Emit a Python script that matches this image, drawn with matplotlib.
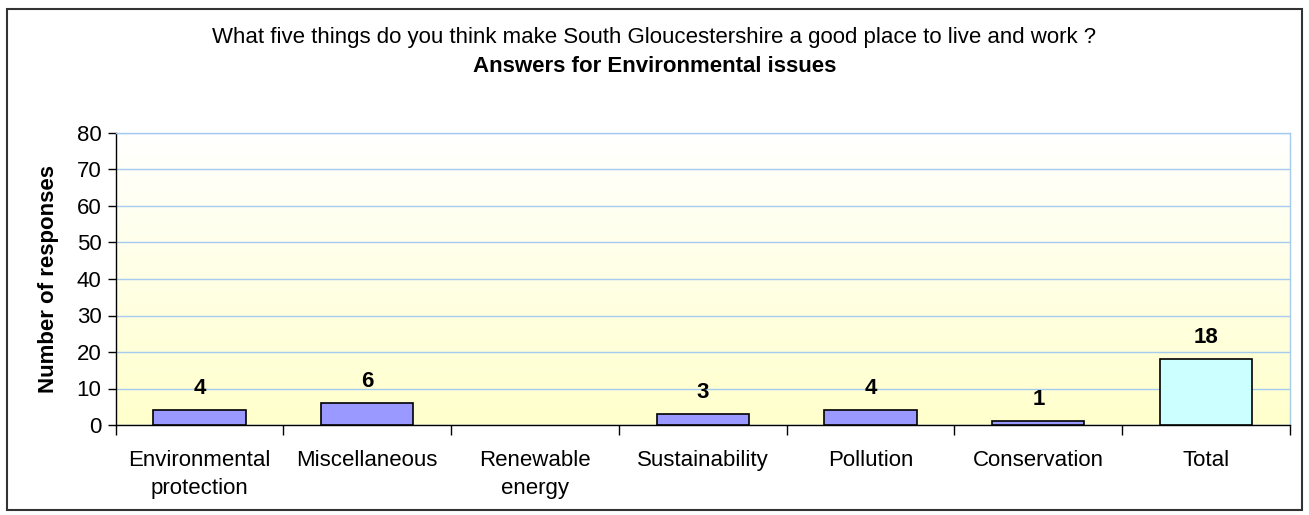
import numpy as np
import matplotlib
matplotlib.use("Agg")
import matplotlib.pyplot as plt
from matplotlib.patches import Rectangle
from matplotlib.colors import LinearSegmentedColormap

plt.rcParams['font.family'] = ['Liberation Sans', 'DejaVu Sans']

categories = ["Environmental\nprotection", "Miscellaneous", "Renewable\nenergy",
              "Sustainability", "Pollution", "Conservation", "Total"]
values = [4, 6, np.nan, 3, 4, 1, 18]
bar_colors = ["#9999FF"] * 6 + ["#CCFFFF"]
yticks = [0, 10, 20, 30, 40, 50, 60, 70, 80]
title1 = "What five things do you think make South Gloucestershire a good place to live and work ?"
title2 = "Answers for Environmental issues"
ylabel = "Number of responses"

W, H = 1309, 515
fig = plt.figure(figsize=(W / 100, H / 100), dpi=100)

# outer border
fig.patches.append(Rectangle((7 / W, 1 - 510 / H), (1302 - 7) / W, (510 - 9) / H,
                             transform=fig.transFigure, fill=False,
                             edgecolor="#333333", linewidth=1.5))

ax = fig.add_axes([115.5 / W, 1 - 425 / H, (1290 - 115.5) / W, (425 - 133) / H])

n = len(categories)
x = np.arange(n)
ax.set_xlim(-0.5, n - 0.5)
ax.set_ylim(0, 80)

# gradient background
cmap = LinearSegmentedColormap.from_list("bg", ["#FFFFCC", "#FFFFFF"])
grad = np.linspace(0, 1, 256).reshape(-1, 1)
ax.imshow(grad, aspect="auto", cmap=cmap, origin="lower",
          extent=(-0.5, n - 0.5, 0, 80), zorder=0)

ax.set_yticks(yticks)
ax.yaxis.grid(True, color="#A6CAF0", linewidth=1, zorder=1)
ax.set_axisbelow(True)

mask = ~np.isnan(np.array(values, dtype=float))
xs = x[mask]
vs = np.array(values, dtype=float)[mask]
cs = [c for c, m in zip(bar_colors, mask) if m]
ax.bar(xs, vs, width=0.55, color=cs, edgecolor="black", linewidth=1.2, zorder=3)
for xi, v in zip(xs, vs):
    ax.text(xi, v + 3, f"{int(v)}", ha="center", va="bottom",
            fontsize=16, fontweight="bold", zorder=4)

ax.set_xticks(x)
ax.set_xticklabels(categories, fontsize=16, linespacing=1.45)
ax.set_xticks(np.arange(-0.5, n, 1), minor=True)
ax.tick_params(axis="x", which="major", length=0, pad=18)
ax.tick_params(axis="x", which="minor", length=7, width=1, color="black")
ax.tick_params(axis="y", length=6, width=1, labelsize=16, pad=4)

for s in ["top", "right"]:
    ax.spines[s].set_color("#A6CAF0")
    ax.spines[s].set_linewidth(1)
for s in ["left", "bottom"]:
    ax.spines[s].set_color("black")
    ax.spines[s].set_linewidth(1)

ax.set_ylabel(ylabel, fontsize=16, fontweight="bold", labelpad=13)

fig.text(0.5, 1 - 38 / H, title1, ha="center", va="center", fontsize=16)
fig.text(0.5, 1 - 66 / H, title2, ha="center", va="center", fontsize=16, fontweight="bold")

fig.savefig("out.png", dpi=100)
